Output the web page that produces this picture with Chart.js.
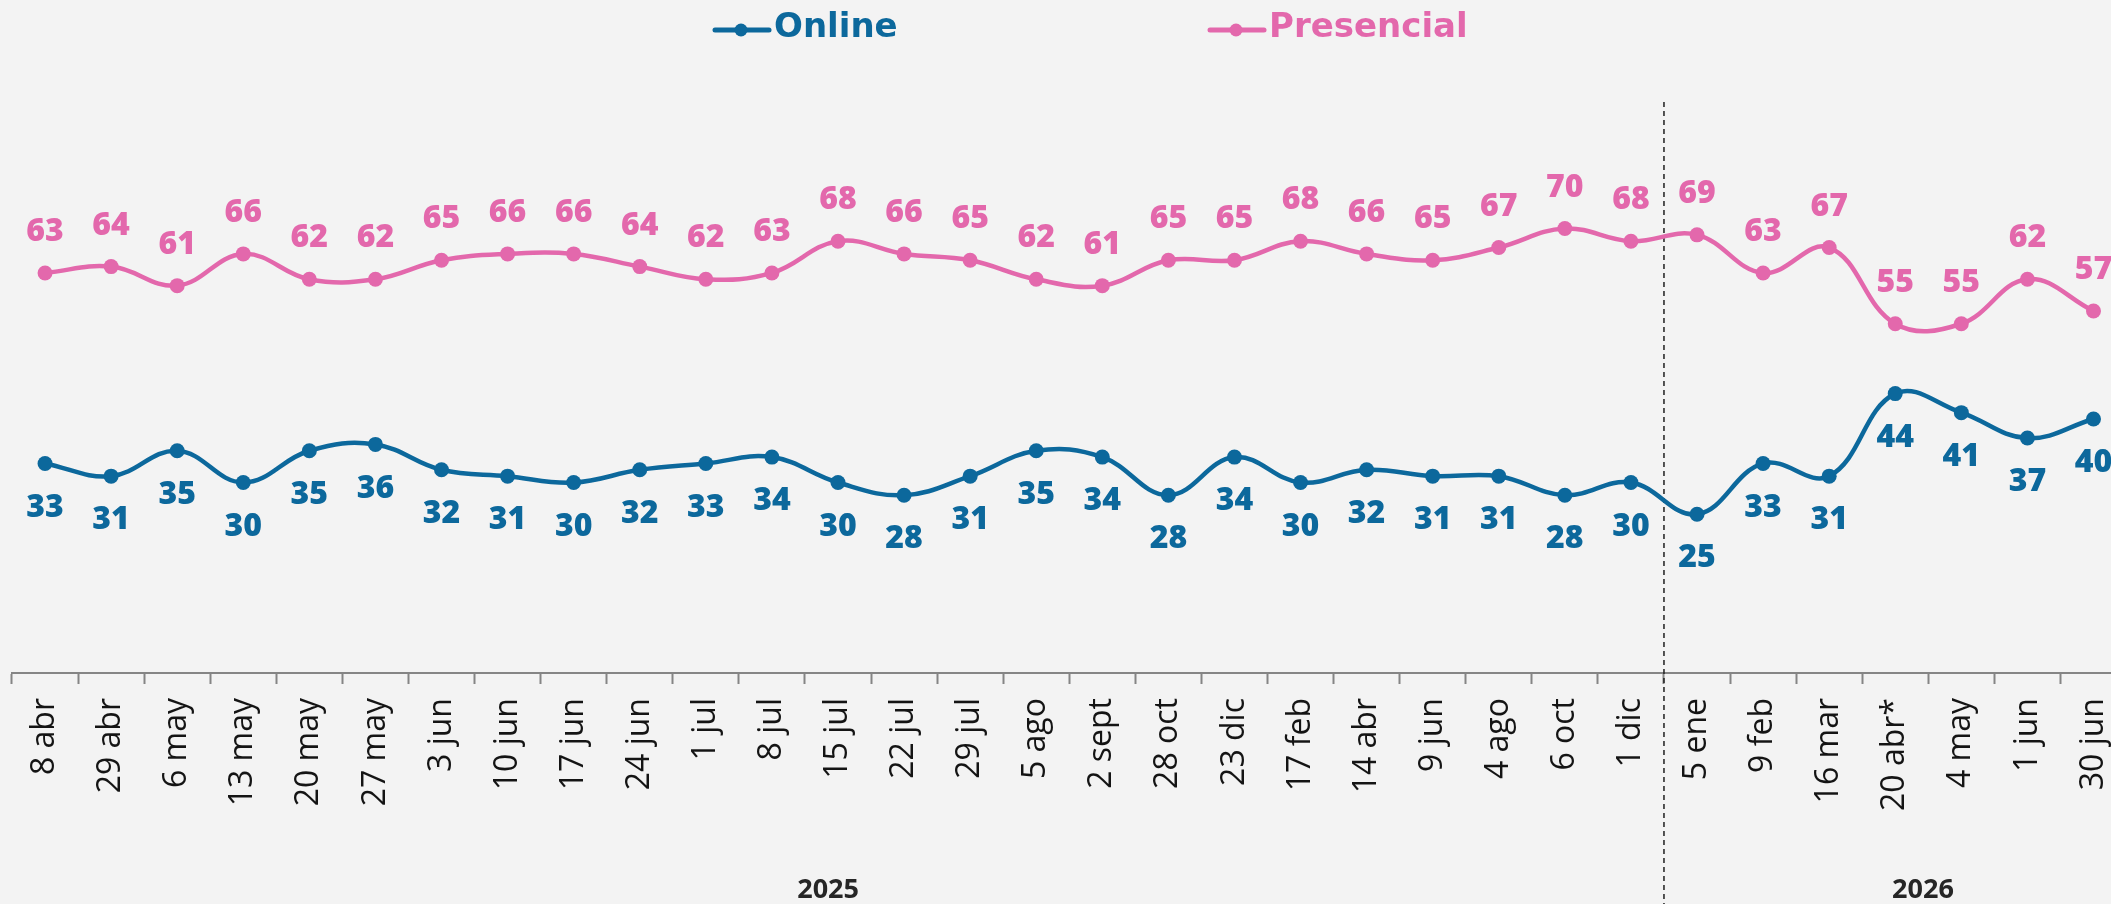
<!DOCTYPE html>
<html lang="es">
<head>
<meta charset="utf-8">
<title>Online vs Presencial</title>
<script src="https://cdn.jsdelivr.net/npm/chart.js@4.4.1/dist/chart.umd.min.js"></script>
<style>
  html, body { margin: 0; padding: 0; overflow: hidden; background: #f3f3f3; }
  #wrap { position: relative; width: 2146px; height: 904px; }
</style>
</head>
<body>
<div id="wrap"><canvas id="modalidadChart" width="2146" height="904"></canvas></div>
<script>
// Fechas de cada medición
const fechas = ['8 abr', '29 abr', '6 may', '13 may', '20 may', '27 may', '3 jun', '10 jun', '17 jun', '24 jun',
  '1 jul', '8 jul', '15 jul', '22 jul', '29 jul', '5 ago', '2 sept', '28 oct', '23 dic', '17 feb',
  '14 abr', '9 jun', '4 ago', '6 oct', '1 dic', '5 ene', '9 feb', '16 mar', '20 abr*', '4 may', '1 jun', '30 jun'];

// Series (%)
const online = [33, 31, 35, 30, 35, 36, 32, 31, 30, 32, 33, 34, 30, 28, 31, 35, 34, 28, 34, 30,
  32, 31, 31, 28, 30, 25, 33, 31, 44, 41, 37, 40];
const presencial = [63, 64, 61, 66, 62, 62, 65, 66, 66, 64, 62, 63, 68, 66, 65, 62, 61, 65, 65, 68,
  66, 65, 67, 70, 68, 69, 63, 67, 55, 55, 62, 57];

// Años bajo el eje
const anios = ['2025', '2026'];

const AZUL = '#0c689c';
const ROSA = '#e368ac';

// Etiquetas de valor encima / debajo de cada punto
const valueLabels = {
  id: 'valueLabels',
  afterDatasetsDraw(chart, args, opts) {
    const ctx = chart.ctx;
    ctx.save();
    ctx.font = '800 32px "Open Sans"';
    ctx.textAlign = 'center';
    ctx.textBaseline = 'middle';
    chart.data.datasets.forEach((ds, i) => {
      const meta = chart.getDatasetMeta(i);
      ctx.fillStyle = ds.borderColor;
      meta.data.forEach((pt, j) => {
        ctx.fillText(ds.data[j], pt.x, pt.y + opts.offsets[i]);
      });
    });
    ctx.restore();
  }
};

// Línea divisoria entre años y los rótulos de año
const yearDivider = {
  id: 'yearDivider',
  beforeDatasetsDraw(chart, args, opts) {
    const ctx = chart.ctx;
    const x = chart.scales.x.getPixelForValue(opts.splitAt - 0.5);
    ctx.save();
    ctx.strokeStyle = '#1e1e1e';
    ctx.lineWidth = 1.5;
    ctx.setLineDash([5, 4]);
    ctx.beginPath();
    ctx.moveTo(x, opts.top);
    ctx.lineTo(x, chart.height);
    ctx.stroke();
    ctx.restore();
  },
  afterDraw(chart, args, opts) {
    const ctx = chart.ctx;
    ctx.save();
    ctx.font = '700 27px "Open Sans"';
    ctx.fillStyle = '#262626';
    ctx.textAlign = 'center';
    ctx.textBaseline = 'middle';
    anios.forEach((a, i) => {
      ctx.fillText(a, chart.scales.x.getPixelForValue(opts.yearAt[i]), chart.height - 14);
    });
    ctx.restore();
  }
};

// Leyenda dibujada arriba
const topLegend = {
  id: 'topLegend',
  afterDraw(chart, args, opts) {
    const ctx = chart.ctx;
    ctx.save();
    chart.data.datasets.forEach((ds, i) => {
      const x = opts.xs[i];
      const y = opts.y;
      ctx.strokeStyle = ds.borderColor;
      ctx.fillStyle = ds.borderColor;
      ctx.lineWidth = 5;
      ctx.lineCap = 'round';
      ctx.beginPath();
      ctx.moveTo(x, y);
      ctx.lineTo(x + 54, y);
      ctx.stroke();
      ctx.beginPath();
      ctx.arc(x + 26, y, 6.5, 0, Math.PI * 2);
      ctx.fill();
      ctx.font = '700 34px "DejaVu Sans"';
      ctx.textBaseline = 'alphabetic';
      ctx.textAlign = 'left';
      ctx.fillText(ds.label, x + 59, y + 7);
    });
    ctx.restore();
  }
};

const ctx = document.getElementById('modalidadChart').getContext('2d');

new Chart(ctx, {
  type: 'line',
  data: {
    labels: fechas,
    datasets: [
      {
        label: 'Online',
        data: online,
        borderColor: AZUL,
        backgroundColor: AZUL,
        pointBackgroundColor: AZUL,
        borderWidth: 4.5,
        pointRadius: 7.5,
        pointBorderWidth: 0,
        tension: 0.4
      },
      {
        label: 'Presencial',
        data: presencial,
        borderColor: ROSA,
        backgroundColor: ROSA,
        pointBackgroundColor: ROSA,
        borderWidth: 4.5,
        pointRadius: 7.5,
        pointBorderWidth: 0,
        tension: 0.4
      }
    ]
  },
  options: {
    responsive: false,
    animation: false,
    layout: { padding: { top: 38, left: 12, right: 2, bottom: 0 } },
    plugins: {
      legend: { display: false },
      tooltip: { enabled: false },
      valueLabels: { offsets: [44, -41] },
      yearDivider: { splitAt: 25, top: 102, yearAt: [11.85, 28.42] },
      topLegend: { xs: [715, 1210], y: 30 }
    },
    scales: {
      x: {
        offset: true,
        grid: {
          offset: true,
          drawOnChartArea: false,
          drawTicks: true,
          tickLength: 11,
          tickWidth: 2,
          color: '#858585'
        },
        border: { display: true, color: '#858585', width: 2 },
        ticks: {
          autoSkip: false,
          minRotation: 90,
          maxRotation: 90,
          padding: 14,
          color: '#141414',
          font: { family: '"Open Sans"', size: 32 }
        },
        afterFit(scale) { scale.height = 231; }
      },
      y: {
        display: false,
        min: 0,
        max: 100
      }
    }
  },
  plugins: [valueLabels, yearDivider, topLegend]
});
</script>
</body>
</html>
